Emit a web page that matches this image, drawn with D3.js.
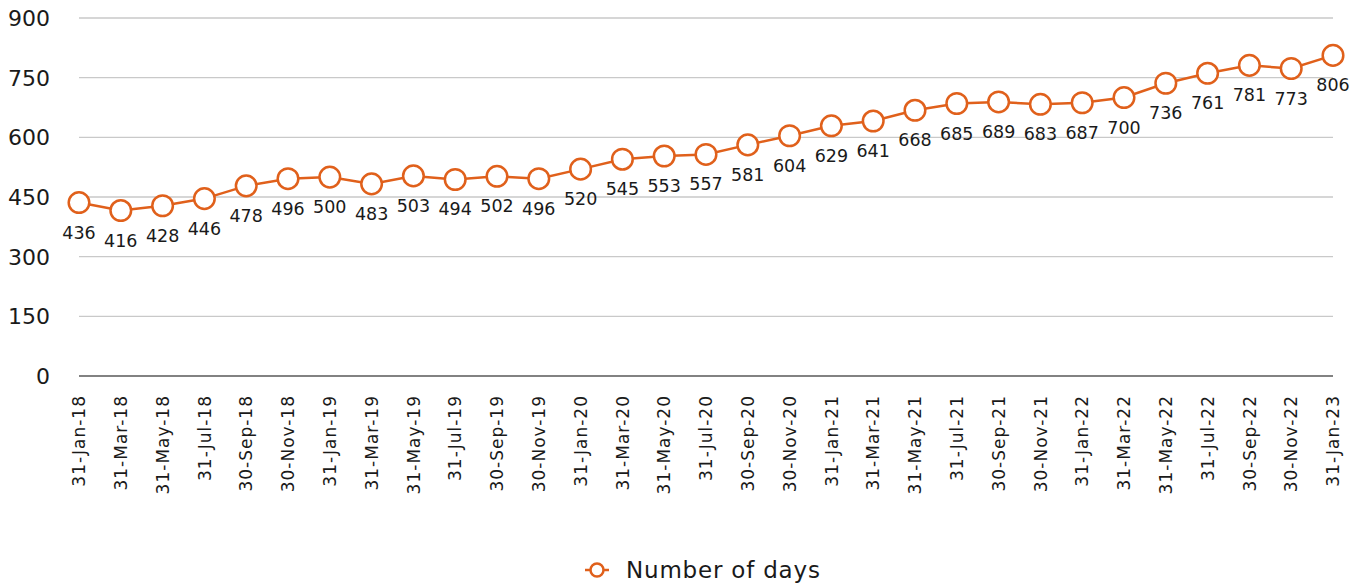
<!DOCTYPE html>
<html>
<head>
<meta charset="utf-8">
<script src="https://cdn.jsdelivr.net/npm/d3@7"></script>
<style>
  body { margin: 0; background: #fff; }
  svg text { font-family: 'DejaVu Sans', 'Noto Sans', sans-serif; fill: #1a1a1a; }
</style>
</head>
<body>
<svg id="chart"></svg>
<script>
const dates = ['31-Jan-18', '31-Mar-18', '31-May-18', '31-Jul-18', '30-Sep-18', '30-Nov-18',
    '31-Jan-19', '31-Mar-19', '31-May-19', '31-Jul-19', '30-Sep-19', '30-Nov-19',
    '31-Jan-20', '31-Mar-20', '31-May-20', '31-Jul-20', '30-Sep-20', '30-Nov-20',
    '31-Jan-21', '31-Mar-21', '31-May-21', '31-Jul-21', '30-Sep-21', '30-Nov-21',
    '31-Jan-22', '31-Mar-22', '31-May-22', '31-Jul-22', '30-Sep-22', '30-Nov-22',
    '31-Jan-23']
const days = [436, 416, 428, 446, 478, 496, 500, 483, 503, 494, 502, 496,
    520, 545, 553, 557, 581, 604, 629, 641, 668, 685, 689, 683,
    687, 700, 736, 761, 781, 773, 806]
const yTicks = [0, 150, 300, 450, 600, 750, 900]
const seriesName = 'Number of days'

const width = 1365
const height = 587
const margin = { top: 18, right: 32, bottom: 211, left: 79 }
const orange = '#e0601b'

const svg = d3.select('#chart')
    .attr('width', width)
    .attr('height', height)

const x = d3.scalePoint()
    .domain(dates)
    .range([margin.left, width - margin.right])

const y = d3.scaleLinear()
    .domain([0, 900])
    .range([height - margin.bottom, margin.top])

// gridlines
svg.append('g')
    .selectAll('line')
    .data(yTicks.filter(d => d > 0))
    .join('line')
    .attr('x1', margin.left)
    .attr('x2', width - margin.right)
    .attr('y1', d => y(d))
    .attr('y2', d => y(d))
    .attr('stroke', '#c9c9c9')
    .attr('stroke-width', 1.3)

// y labels
svg.append('g')
    .selectAll('text')
    .data(yTicks)
    .join('text')
    .attr('x', 50)
    .attr('y', d => y(d))
    .attr('dy', '0.36em')
    .attr('text-anchor', 'end')
    .style('font-size', '22px')
    .text(d => d)

// x axis line
svg.append('line')
    .attr('x1', margin.left)
    .attr('x2', width - margin.right)
    .attr('y1', y(0))
    .attr('y2', y(0))
    .attr('stroke', '#595959')
    .attr('stroke-width', 1.5)

// x labels
svg.append('g')
    .selectAll('text')
    .data(dates)
    .join('text')
    .attr('transform', d => `translate(${x(d)}, ${y(0) + 19}) rotate(-90)`)
    .attr('dy', '0.36em')
    .attr('text-anchor', 'end')
    .style('font-size', '17px')
    .style('letter-spacing', '1px')
    .text(d => d)

// line
const line = d3.line()
    .x((d, i) => x(dates[i]))
    .y(d => y(d))

svg.append('path')
    .datum(days)
    .attr('d', line)
    .attr('fill', 'none')
    .attr('stroke', orange)
    .attr('stroke-width', 2.5)

// markers
svg.append('g')
    .selectAll('circle')
    .data(days)
    .join('circle')
    .attr('cx', (d, i) => x(dates[i]))
    .attr('cy', d => y(d))
    .attr('r', 10.3)
    .attr('fill', '#fff')
    .attr('stroke', orange)
    .attr('stroke-width', 2.5)

// data labels
svg.append('g')
    .selectAll('text')
    .data(days)
    .join('text')
    .attr('x', (d, i) => x(dates[i]))
    .attr('y', d => y(d) + 36)
    .attr('text-anchor', 'middle')
    .style('font-size', '17.5px')
    .text(d => d)

// legend
const legend = svg.append('g')
    .attr('transform', 'translate(597, 570)')

legend.append('line')
    .attr('x1', -12)
    .attr('x2', 12)
    .attr('stroke', orange)
    .attr('stroke-width', 2.5)

legend.append('circle')
    .attr('r', 6.5)
    .attr('fill', '#fff')
    .attr('stroke', orange)
    .attr('stroke-width', 2.5)

legend.append('text')
    .attr('x', 29)
    .attr('dy', '0.36em')
    .style('font-size', '23px')
    .style('letter-spacing', '0.8px')
    .text(seriesName)
</script>
</body>
</html>
